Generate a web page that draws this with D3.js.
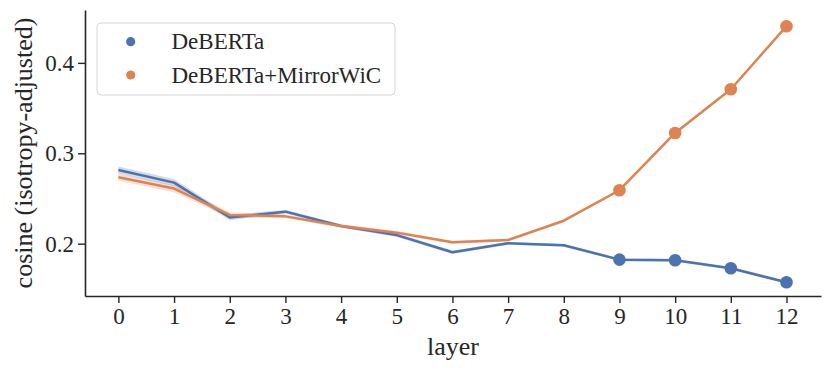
<!DOCTYPE html>
<html>
<head>
<meta charset="utf-8">
<script src="https://cdn.jsdelivr.net/npm/d3@7"></script>
<style>
  body { margin: 0; background: #fff; }
  svg { display: block; font-family: "Liberation Serif", "DejaVu Serif", serif; }
</style>
</head>
<body>
<div id="chart"></div>
<script>
// layers 0..12
const layers = [0, 1, 2, 3, 4, 5, 6, 7, 8, 9, 10, 11, 12];
const deberta = [0.2815, 0.2675, 0.229, 0.2354, 0.2195, 0.2095, 0.1905, 0.2004, 0.1982, 0.1823, 0.1816, 0.1728, 0.1573];
const debertaCi = [0.004, 0.004, 0.003, 0.002, 0.002, 0.002, 0.002, 0.0015, 0.0015, 0.0015, 0.0015, 0.0015, 0.0015];
const mirror = [0.2735, 0.261, 0.2318, 0.2302, 0.2195, 0.2122, 0.2015, 0.2041, 0.2254, 0.2591, 0.3225, 0.3708, 0.4406];
const mirrorCi = [0.004, 0.004, 0.003, 0.002, 0.002, 0.002, 0.0015, 0.0015, 0.0015, 0.0015, 0.0015, 0.0015, 0.0015];
const markerLayers = [9, 10, 11, 12];
const yTicks = [0.2, 0.3, 0.4];
const seriesNames = ['DeBERTa', 'DeBERTa+MirrorWiC'];
const colors = ['#4c72b0', '#dd8452'];

const width = 831, height = 373;
const margin = { top: 10, right: 10, bottom: 77, left: 85 };

const svg = d3.select('#chart').append('svg')
  .attr('width', width)
  .attr('height', height);

const x = d3.scaleLinear()
  .domain([-0.6, 12.62])
  .range([margin.left, width - margin.right]);

const y = d3.scaleLinear()
  .domain([0.1421, 0.4585])
  .range([height - margin.bottom, margin.top]);

const series = [
  { name: seriesNames[0], values: deberta, ci: debertaCi, color: colors[0] },
  { name: seriesNames[1], values: mirror, ci: mirrorCi, color: colors[1] }
];

const area = d3.area()
  .x((d, i) => x(layers[i]))
  .y0((d, i) => y(d.v - d.c))
  .y1((d, i) => y(d.v + d.c));

const line = d3.line()
  .x((d, i) => x(layers[i]))
  .y(d => d);

series.forEach(s => {
  const pts = s.values.map((v, i) => ({ v: v, c: s.ci[i] }));
  svg.append('path')
    .attr('d', area(pts))
    .attr('fill', s.color)
    .attr('fill-opacity', 0.25)
    .attr('stroke', 'none');
});

series.forEach(s => {
  svg.append('path')
    .attr('d', d3.line().x((d, i) => x(layers[i])).y(d => y(d))(s.values))
    .attr('fill', 'none')
    .attr('stroke', s.color)
    .attr('stroke-width', 2.5)
    .attr('stroke-linejoin', 'round');
});

series.forEach(s => {
  svg.selectAll(null)
    .data(markerLayers)
    .enter()
    .append('circle')
    .attr('cx', d => x(d))
    .attr('cy', d => y(s.values[d]))
    .attr('r', 6.3)
    .attr('fill', s.color);
});

// axes
const xAxis = svg.append('g')
  .attr('transform', `translate(0,${height - margin.bottom})`)
  .call(d3.axisBottom(x).tickValues(layers).tickSize(7).tickPadding(5).tickSizeOuter(0));

const yAxis = svg.append('g')
  .attr('transform', `translate(${margin.left},0)`)
  .call(d3.axisLeft(y).tickValues(yTicks).tickFormat(d3.format('.1f')).tickSize(7).tickPadding(4).tickSizeOuter(0));

[xAxis, yAxis].forEach(a => {
  a.select('.domain').attr('stroke', '#262626').attr('stroke-width', 1.6);
  a.selectAll('.tick line').attr('stroke', '#262626').attr('stroke-width', 1.4);
  a.selectAll('.tick text')
    .attr('fill', '#262626')
    .style('font-family', '"Liberation Serif", serif')
    .style('font-size', '23px');
});

svg.append('text')
  .attr('x', (margin.left + width - margin.right) / 2)
  .attr('y', 355)
  .attr('text-anchor', 'middle')
  .attr('fill', '#262626')
  .style('font-size', '26px')
  .text('layer');

svg.append('text')
  .attr('transform', `translate(32,${(margin.top + height - margin.bottom) / 2}) rotate(-90)`)
  .attr('text-anchor', 'middle')
  .attr('fill', '#262626')
  .style('font-size', '26px')
  .text('cosine (isotropy-adjusted)');

// legend
const legend = svg.append('g');
legend.append('rect')
  .attr('x', 97).attr('y', 23)
  .attr('width', 298).attr('height', 72)
  .attr('rx', 4)
  .attr('fill', '#fff')
  .attr('fill-opacity', 0.8)
  .attr('stroke', '#d6d6d6')
  .attr('stroke-width', 1);

series.forEach((s, i) => {
  const cy = 41.7 + i * 33.3;
  legend.append('circle')
    .attr('cx', 130.7).attr('cy', cy).attr('r', 4.6)
    .attr('fill', s.color);
  legend.append('text')
    .attr('x', 171.5).attr('y', cy + 7.5)
    .attr('fill', '#262626')
    .style('font-size', '23px')
    .text(s.name);
});
</script>
</body>
</html>
